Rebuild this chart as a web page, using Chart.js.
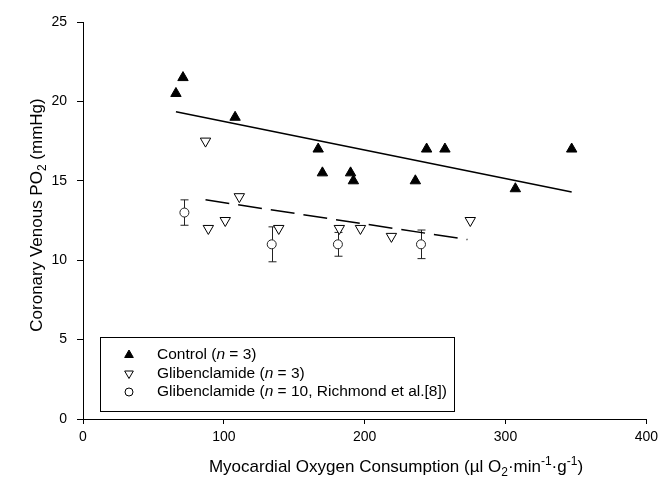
<!DOCTYPE html>
<html>
<head>
<meta charset="utf-8">
<script src="https://cdn.jsdelivr.net/npm/chart.js@4.4.0/dist/chart.umd.min.js"></script>
<style>
  html, body { margin: 0; padding: 0; background: #fff; }
  canvas { display: block; }
</style>
</head>
<body>
<canvas id="po2Chart" width="663" height="482"></canvas>
<script>
// values
const controlX = [66, 71, 108, 167, 170, 190, 192, 236, 244, 257, 307, 347];
const controlY = [20.5, 21.5, 19, 17, 15.5, 15.5, 15, 15, 17, 17, 14.5, 17];

const glibX = [87, 89, 101, 111, 139, 182, 197, 219, 275];
const glibY = [17.5, 12, 12.5, 14, 12, 12, 12, 11.5, 12.5];

const richX = [72, 134, 181, 240];
const richY = [13, 11, 11, 11];
const richErr = [0.8, 1.1, 0.75, 0.9];

// regression line end points
const controlFitX = [66, 347];
const controlFitY = [19.35, 14.3];
const glibFitX = [87, 273];
const glibFitY = [13.8, 11.3];

const xTicks = [0, 100, 200, 300, 400];
const yTicks = [0, 5, 10, 15, 20, 25];

const seriesNames = [
  [["Control (", ""], ["n", "i"], [" = 3)", ""]],
  [["Glibenclamide (", ""], ["n", "i"], [" = 3)", ""]],
  [["Glibenclamide (", ""], ["n", "i"], [" = 10, Richmond et al.[8])", ""]],
];

const xTitle = [
  ["Myocardial Oxygen Consumption (\u00b5l O", ""], ["2", "sub"],
  ["\u00b7min", ""], ["-1", "sup"], ["\u00b7g", ""], ["-1", "sup"], [")", ""],
];
const yTitle = [["Coronary Venous PO", ""], ["2", "sub"], [" (mmHg)", ""]];

const FONT = '"Liberation Sans", Arial, Helvetica, sans-serif';

function pts(xs, ys) {
  return xs.map(function (x, i) { return { x: x, y: ys[i] }; });
}

function setFont(ctx, style, size) {
  const s = style === "sub" || style === "sup" ? Math.round(size * 0.68) : size;
  ctx.font = (style === "i" ? "italic " : "") + s + "px " + FONT;
}

function drawRich(ctx, segs, x, y, size, align) {
  let total = 0;
  segs.forEach(function (s) {
    setFont(ctx, s[1], size);
    total += ctx.measureText(s[0]).width;
  });
  let cx = align === "center" ? x - total / 2 : x;
  ctx.textAlign = "left";
  ctx.textBaseline = "middle";
  segs.forEach(function (s) {
    setFont(ctx, s[1], size);
    let dy = 0;
    if (s[1] === "sub") dy = size * 0.33;
    if (s[1] === "sup") dy = -size * 0.33;
    ctx.fillText(s[0], cx, y + dy);
    cx += ctx.measureText(s[0]).width;
  });
}

function marker(ctx, kind, x, y, r) {
  ctx.beginPath();
  if (kind === "up" || kind === "down") {
    let a = kind === "up" ? 0 : Math.PI;
    for (let k = 0; k < 3; k++) {
      const px = x + Math.sin(a) * r, py = y - Math.cos(a) * r;
      if (k === 0) ctx.moveTo(px, py); else ctx.lineTo(px, py);
      a += (2 * Math.PI) / 3;
    }
    ctx.closePath();
  } else {
    ctx.arc(x, y, r, 0, Math.PI * 2);
  }
  ctx.fillStyle = kind === "up" ? "#000" : "#fff";
  ctx.fill();
  ctx.strokeStyle = "#000";
  ctx.lineWidth = 1;
  ctx.stroke();
}

const errorBars = {
  id: "errorBars",
  beforeDatasetsDraw: function (chart) {
    const ctx = chart.ctx;
    const xs = chart.scales.x, ys = chart.scales.y;
    ctx.save();
    ctx.strokeStyle = "#222";
    ctx.lineWidth = 1;
    richX.forEach(function (v, i) {
      const px = Math.round(xs.getPixelForValue(v)) + 0.5;
      const top = ys.getPixelForValue(richY[i] + richErr[i]);
      const bot = ys.getPixelForValue(richY[i] - richErr[i]);
      ctx.beginPath();
      ctx.moveTo(px, top); ctx.lineTo(px, bot);
      ctx.moveTo(px - 4, top); ctx.lineTo(px + 4, top);
      ctx.moveTo(px - 4, bot); ctx.lineTo(px + 4, bot);
      ctx.stroke();
    });
    ctx.restore();
  },
};

const decorations = {
  id: "decorations",
  afterDraw: function (chart) {
    const ctx = chart.ctx;
    ctx.save();
    ctx.fillStyle = "#000";
    // axis titles
    drawRich(ctx, xTitle, 396, 467, 17, "center");
    ctx.save();
    ctx.translate(37, 215);
    ctx.rotate(-Math.PI / 2);
    drawRich(ctx, yTitle, 0, 0, 17, "center");
    ctx.restore();

    // legend box
    ctx.strokeStyle = "#000";
    ctx.lineWidth = 1;
    ctx.strokeRect(100.5, 337.5, 354, 74);
    const kinds = ["up", "down", "circle"];
    const sizes = [5, 5, 4];
    seriesNames.forEach(function (name, i) {
      const y = 355 + i * 18.5;
      marker(ctx, kinds[i], 129, y, sizes[i]);
      ctx.fillStyle = "#000";
      drawRich(ctx, name, 157, y, 15.5, "left");
    });
    ctx.restore();
  },
};

document.addEventListener("DOMContentLoaded", function () {
  const ctx = document.getElementById("po2Chart").getContext("2d");
  Chart.defaults.font.family = FONT;
  Chart.defaults.color = "#000";

  const po2Chart = new Chart(ctx, {
    type: "scatter",
    data: {
      datasets: [
        {
          label: "Control",
          data: pts(controlX, controlY),
          pointStyle: "triangle",
          pointRadius: 6,
          backgroundColor: "#000",
          borderColor: "#000",
          borderWidth: 1,
        },
        {
          label: "Glibenclamide",
          data: pts(glibX, glibY),
          pointStyle: "triangle",
          rotation: 180,
          pointRadius: 6,
          backgroundColor: "#fff",
          borderColor: "#000",
          borderWidth: 1,
        },
        {
          label: "Richmond",
          data: pts(richX, richY),
          pointStyle: "circle",
          pointRadius: 4.5,
          backgroundColor: "#fff",
          borderColor: "#222",
          borderWidth: 1,
        },
        {
          type: "line",
          label: "Control fit",
          data: pts(controlFitX, controlFitY),
          borderColor: "#000",
          borderWidth: 1.5,
          pointRadius: 0,
          fill: false,
        },
        {
          type: "line",
          label: "Glibenclamide fit",
          data: pts(glibFitX, glibFitY),
          borderColor: "#000",
          borderWidth: 1.5,
          borderDash: [24, 9],
          pointRadius: 0,
          fill: false,
        },
      ],
    },
    options: {
      responsive: false,
      animation: false,
      layout: { padding: { left: 0, right: 14, top: 22, bottom: 0 } },
      plugins: {
        legend: { display: false },
        tooltip: { enabled: false },
      },
      scales: {
        x: {
          type: "linear",
          min: 0,
          max: 400,
          afterFit: function (scale) { scale.height = 63; },
          afterBuildTicks: function (scale) {
            scale.ticks = xTicks.map(function (v) { return { value: v }; });
          },
          grid: { drawOnChartArea: false, drawTicks: true, tickLength: 5, color: "#000" },
          border: { color: "#000", width: 1 },
          ticks: { padding: 5, font: { size: 14 }, color: "#000", maxRotation: 0 },
        },
        y: {
          type: "linear",
          min: 0,
          max: 25,
          afterFit: function (scale) { scale.width = 83; },
          afterBuildTicks: function (scale) {
            scale.ticks = yTicks.map(function (v) { return { value: v }; });
          },
          grid: { drawOnChartArea: false, drawTicks: true, tickLength: 6, color: "#000" },
          border: { color: "#000", width: 1 },
          ticks: { padding: 10, font: { size: 14 }, color: "#000" },
        },
      },
    },
    plugins: [errorBars, decorations],
  });
});
</script>
</body>
</html>
